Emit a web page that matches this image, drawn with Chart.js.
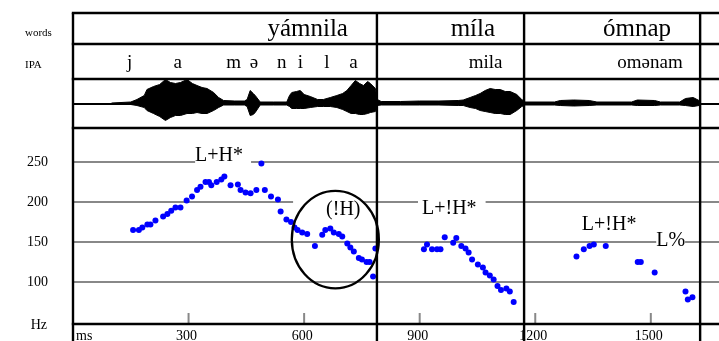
<!DOCTYPE html>
<html>
<head>
<meta charset="utf-8">
<script src="https://cdn.jsdelivr.net/npm/chart.js@4"></script>
<style>
  html, body { margin: 0; padding: 0; background: #fff; }
  #wrap { width: 719px; height: 341px; position: relative; }
</style>
</head>
<body>
<div id="wrap"><canvas id="myChart"></canvas></div>
<script>
// word tier
const words = ['yámnila', 'míla', 'ómnap'];
const wordBounds = [0, 789, 1171, 1628];

// IPA tier: segment text and centre time (ms)
const ipaText = ['j', 'a', 'm', 'ə', 'n', 'i', 'l', 'a', 'mila', 'omənam'];
const ipaMs = [147, 272, 417, 470, 542, 590, 659, 728, 1071, 1498];

// waveform envelope (ms, upper / lower amplitude)
const waveMs = [100, 150, 166, 185, 192, 209, 225, 240, 253, 266, 279, 296, 310, 322, 335, 348, 365, 378, 391, 420, 445,
  452, 460, 468, 473, 486, 520, 555, 562, 568, 580, 590, 600, 616, 635, 650, 668, 685, 700, 711, 722, 733, 744, 754,
  765, 772, 785, 790, 800, 850, 900, 950, 1000, 1013, 1031, 1045, 1057, 1070, 1083, 1096, 1109, 1122, 1135, 1152,
  1165, 1175, 1250, 1265, 1300, 1340, 1360, 1450, 1465, 1510, 1525, 1575, 1590, 1610, 1625, 1628];
const waveTop = [0.5, 1.5, 4, 8, 14, 17, 19, 24, 21, 20, 21, 24, 20, 18, 16, 15, 11, 6, 3, 2.5, 2.5,
  4, 13, 10, 8, 1.5, 1.5, 1.5, 8, 11, 12, 13, 9, 7, 4, 4, 6, 8, 10, 13, 18, 23, 20, 18,
  22, 20, 15, 4, 2, 2, 2.5, 2.5, 3, 3.5, 6, 8, 10, 13, 15, 14, 14, 12, 12, 9,
  4, 1.5, 1.5, 3, 3.5, 3, 1.5, 1.5, 3.5, 3, 1.5, 1.5, 5, 6, 3, 0];
const waveBottom = [0.5, 1, 2, 4, 7, 10, 13, 17, 14, 12, 12, 10, 10, 9, 10, 10, 7, 4, 1.5, 1.5, 1.5,
  3, 12, 11, 9, 1.5, 1.5, 1.5, 3, 5, 5, 5, 5, 4, 3, 3, 3, 4, 6, 8, 10, 10, 11, 11,
  10, 9, 8, 2, 1.5, 1.5, 1.5, 1.5, 2, 2, 4, 5, 7, 8, 9, 10, 10, 11, 11, 7,
  3, 1.5, 1.5, 2, 2.5, 2, 1.5, 1.5, 2, 2, 1.5, 1.5, 2, 3, 2, 0];

// F0 track
const pitchMs = [156, 171, 180, 193, 201, 214, 234, 245, 255, 266, 279, 295, 309, 322, 331, 344, 353, 359, 373, 385,
  393, 409, 428, 435, 448, 461, 476, 489, 498, 514, 532, 539, 554, 566, 575, 583, 595, 608, 628, 647,
  655, 668, 677, 690, 699, 712, 720, 729, 742, 750, 762, 770, 779, 785,
  911, 919, 932, 945, 954, 965, 987, 995, 1008, 1019, 1027, 1036, 1051, 1064, 1071, 1082, 1092, 1102, 1111, 1125, 1134, 1144,
  1307, 1326, 1341, 1352, 1383, 1466, 1474, 1510, 1590, 1596, 1608];
const pitchHz = [165, 165, 168, 172, 172, 177, 182, 185, 189, 193, 193, 202, 207, 215, 219, 225, 225, 221, 225, 228,
  232, 221, 222, 215, 212, 211, 215, 248, 215, 207, 203, 188, 178, 175, 168, 165, 162, 160, 145, 159,
  165, 167, 162, 160, 157, 148, 143, 138, 130, 128, 125, 125, 107, 142,
  141, 147, 141, 141, 141, 156, 149, 155, 145, 142, 137, 128, 122, 118, 112, 108, 103, 95, 90, 92, 88, 75,
  132, 141, 145, 147, 145, 125, 125, 112, 88, 78, 81];

// pitch accent labels: text, left edge (ms), baseline (Hz), box padding left/right (px)
const toneText = ['L+H*', '(!H)', 'L+!H*', 'L+!H*', 'L%'];
const toneMs = [317, 657, 906, 1321, 1514];
const toneHz = [251, 184, 185, 165, 145];
const tonePad = [[0, 8], [33, 2], [4, 9], [0, 0], [0, 0]];

const msTicks = [300, 600, 900, 1200, 1500];
const hzTicks = [100, 150, 200, 250];

// circled region (centre ms / Hz, radii ms / Hz)
const circle = { ms: 681, hz: 153, rMs: 113, rHz: 61 };

const SERIF = "'Liberation Serif', 'Times New Roman', serif";
Chart.defaults.font.family = SERIF;
Chart.defaults.color = '#000';

// keep the stacked panels flush with the canvas edges
const noPad = s => { s.paddingTop = 0; s.paddingBottom = 0; s.paddingLeft = 0; s.paddingRight = 0; };

const tiers = {
  id: 'tiers',
  beforeDatasetsDraw(chart) {
    const { ctx, scales: { x, y } } = chart;
    ctx.save();
    ctx.font = '20px ' + SERIF;
    ctx.textBaseline = 'alphabetic';
    ctx.textAlign = 'left';
    toneText.forEach((t, i) => {
      const px = x.getPixelForValue(toneMs[i]);
      const py = y.getPixelForValue(toneHz[i]);
      const w = ctx.measureText(t).width;
      ctx.fillStyle = '#fff';
      ctx.fillRect(px - tonePad[i][0], py - 15, w + tonePad[i][0] + tonePad[i][1], 20);
      ctx.fillStyle = '#000';
      ctx.fillText(t, px, py);
    });
    ctx.restore();
  },
  afterDatasetsDraw(chart) {
    const { ctx, chartArea, scales: { x, y, yWave } } = chart;
    const L = chartArea.left, R = chart.width;
    ctx.save();

    // circle
    const cx = x.getPixelForValue(circle.ms), cy = y.getPixelForValue(circle.hz);
    const rx = x.getPixelForValue(circle.ms + circle.rMs) - cx;
    const ry = cy - y.getPixelForValue(circle.hz + circle.rHz);
    ctx.strokeStyle = '#000';
    ctx.lineWidth = 2.3;
    ctx.beginPath();
    ctx.ellipse(cx, cy, rx, ry, 0, 0, Math.PI * 2);
    ctx.stroke();

    // inner tick marks and time labels
    ctx.strokeStyle = '#888';
    ctx.lineWidth = 2;
    ctx.fillStyle = '#000';
    ctx.font = '14px ' + SERIF;
    ctx.textAlign = 'center';
    ctx.textBaseline = 'alphabetic';
    x.ticks.forEach(t => {
      const px = x.getPixelForValue(t.value);
      ctx.beginPath();
      ctx.moveTo(px, chartArea.bottom);
      ctx.lineTo(px, chartArea.bottom - 11);
      ctx.stroke();
      ctx.fillText(String(t.value), px - 2, 340);
    });

    // frame and tier lines
    ctx.strokeStyle = '#000';
    ctx.lineWidth = 2.4;
    [13, 44, chartArea.top, yWave.bottom, chartArea.bottom].forEach(py => {
      ctx.beginPath();
      ctx.moveTo(L - 1.2, py);
      ctx.lineTo(R, py);
      ctx.stroke();
    });
    wordBounds.forEach(ms => {
      const px = x.getPixelForValue(ms);
      ctx.beginPath();
      ctx.moveTo(px, 13);
      ctx.lineTo(px, chart.height);
      ctx.stroke();
    });

    // word tier
    ctx.font = '25px ' + SERIF;
    ctx.textAlign = 'right';
    words.forEach((w, i) => {
      ctx.fillText(w, x.getPixelForValue(wordBounds[i + 1]) - 29, 36);
    });

    // IPA tier
    ctx.font = '19px ' + SERIF;
    ctx.textAlign = 'center';
    ipaText.forEach((t, i) => ctx.fillText(t, x.getPixelForValue(ipaMs[i]), 68));

    // tier names and units
    ctx.font = '11px ' + SERIF;
    ctx.textAlign = 'left';
    ctx.fillText('words', 25, 36);
    ctx.fillText('IPA', 25, 68);
    ctx.font = '14px ' + SERIF;
    ctx.textAlign = 'right';
    ctx.fillText('Hz', 47, 329);
    ctx.textAlign = 'left';
    ctx.fillText('ms', 76, 340);
    ctx.restore();
  }
};

new Chart(document.getElementById('myChart'), {
  type: 'line',
  data: {
    datasets: [
      {
        label: 'wave+',
        data: waveMs.map((t, i) => ({ x: t, y: waveTop[i] })),
        yAxisID: 'yWave',
        borderColor: '#000',
        backgroundColor: '#000',
        borderWidth: 1,
        pointRadius: 0,
        tension: 0,
        fill: '+1'
      },
      {
        label: 'wave-',
        data: waveMs.map((t, i) => ({ x: t, y: -waveBottom[i] })),
        yAxisID: 'yWave',
        borderColor: '#000',
        borderWidth: 1,
        pointRadius: 0,
        tension: 0,
        fill: false
      },
      {
        label: 'F0',
        data: pitchMs.map((t, i) => ({ x: t, y: pitchHz[i] })),
        yAxisID: 'y',
        showLine: false,
        pointRadius: 3,
        pointBorderWidth: 0,
        pointBackgroundColor: '#0000ff'
      }
    ]
  },
  options: {
    responsive: true,
    maintainAspectRatio: false,
    animation: false,
    layout: { autoPadding: false, padding: { top: 79, left: 0, right: 0, bottom: 0 } },
    plugins: { legend: { display: false }, tooltip: { enabled: false } },
    scales: {
      x: {
        type: 'linear',
        min: 0,
        max: 1677,
        afterBuildTicks: s => { s.ticks = msTicks.map(v => ({ value: v })); },
        afterFit: s => { s.height = 17; noPad(s); },
        grid: { display: false },
        border: { display: false },
        ticks: { display: false }
      },
      y: {
        type: 'linear',
        position: 'left',
        stack: 'panels',
        stackWeight: 196,
        min: 47.5,
        max: 292.5,
        afterBuildTicks: s => { s.ticks = hzTicks.map(v => ({ value: v })); },
        afterFit: s => { s.width = 73; noPad(s); },
        grid: { color: '#888', lineWidth: 2, drawTicks: false },
        border: { display: false },
        ticks: { font: { size: 14 }, color: '#000', padding: 25 }
      },
      yWave: {
        type: 'linear',
        position: 'left',
        stack: 'panels',
        stackWeight: 49,
        min: -24.5,
        max: 24.5,
        afterBuildTicks: s => { s.ticks = [{ value: 0 }]; },
        afterFit: s => { s.width = 73; noPad(s); },
        grid: { color: '#000', lineWidth: 2, drawTicks: false },
        border: { display: false },
        ticks: { display: false }
      }
    }
  },
  plugins: [tiers]
});
</script>
</body>
</html>
